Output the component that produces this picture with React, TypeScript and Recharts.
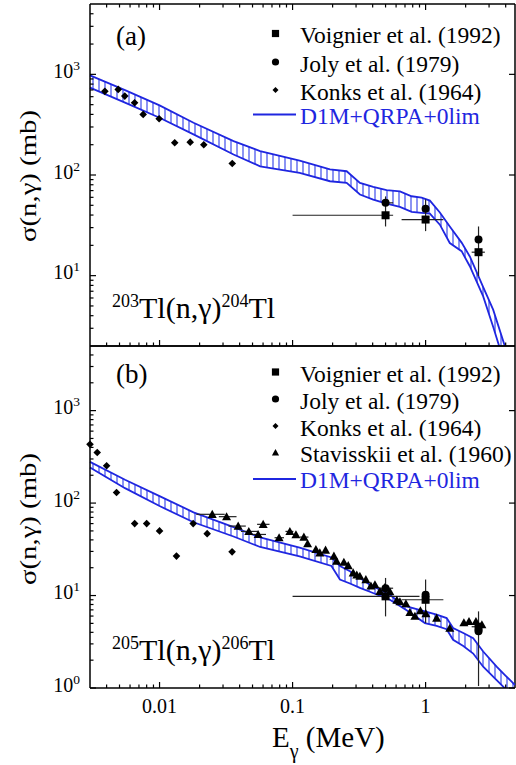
import React from 'react';
import {
  ComposedChart,
  Area,
  Line,
  Scatter,
  ErrorBar,
  XAxis,
  YAxis,
  ReferenceLine,
} from 'recharts';

// ---------- panel (a): 203Tl(n,g)204Tl ----------
const bandEnergyA = [0.003, 0.0055, 0.01, 0.018, 0.036, 0.057, 0.113, 0.191, 0.255, 0.321, 0.404, 0.509, 0.641, 0.785, 0.933, 1.077, 1.28, 1.52, 1.865, 2.15, 2.71, 3.22, 3.95, 4.69];
const bandUpperA = [977, 698, 492, 330, 217, 173, 139, 113.5, 109, 83.6, 76.4, 70.6, 68.6, 61.5, 59.7, 55.7, 42.4, 30.8, 21.3, 15.5, 7.69, 4.59, 1.98, 0.97];
const bandLowerA = [738, 523, 371, 253, 160, 122, 105, 86.7, 83.6, 64, 57, 52, 48.3, 43.1, 42.1, 41.4, 32.1, 21.1, 17.5, 12.4, 6.22, 3.11, 1.3, 0.65];

const konksEnergyA = [0.00388, 0.00489, 0.00548, 0.00649, 0.00753, 0.00993, 0.013, 0.017, 0.0215, 0.0352];
const konksSigmaA = [678, 709, 608, 523, 400, 362, 209, 212, 200, 130];

const jolyEnergyA = [0.5, 1.0, 2.5];
const jolySigmaA = [52.9, 46.1, 22.8];
const jolyXErrA = [[0.03, 0.07], [0, 0], [0, 0]];

const voignierEnergyA = [0.5, 1.0, 2.5];
const voignierSigmaA = [39.8, 36.1, 17.1];
const voignierYErrA = [[9, 21.5], [8.4, 21], [7.2, 13.7]];
const voignierXErrA = [[0.4, 0.07], [0.34, 0.36], [0.28, 0.29]];

// ---------- panel (b): 205Tl(n,g)206Tl ----------
const bandEnergyB = [0.003, 0.0055, 0.01, 0.018, 0.036, 0.057, 0.113, 0.196, 0.227, 0.27, 0.321, 0.381, 0.453, 0.539, 0.641, 0.72, 0.988, 1.21, 1.44, 1.61, 1.92, 2.28, 2.71, 3.42, 3.95, 4.69];
const bandUpperB = [279, 179, 119, 79.5, 55, 42.5, 33, 25.8, 20.8, 18.3, 15.5, 13.1, 11.6, 10.2, 8.31, 7.64, 6.74, 6.21, 5.71, 4.45, 3.93, 3.46, 2.48, 1.7, 1.38, 1.08];
const bandLowerB = [243, 145, 92.9, 62, 43.5, 33.5, 26.5, 20.9, 14.9, 13.5, 12.1, 11.0, 9.95, 9.02, 7.71, 6.94, 5.04, 4.69, 4.32, 3.32, 2.84, 2.36, 1.7, 1.22, 0.99, 0.74];

const konksEnergyB = [0.003, 0.0034, 0.004, 0.00475, 0.0065, 0.008, 0.01, 0.0134, 0.0179, 0.0228, 0.0351];
const konksSigmaB = [432, 353, 253, 130, 60, 60, 50, 26.7, 60, 46.7, 29.7];

const jolyEnergyB = [0.5, 1.0, 2.5];
const jolySigmaB = [12.0, 10.2, 4.1];
const jolyXErrB = [[0.05, 0.07], [0, 0], [0, 0]];

const voignierEnergyB = [0.5, 1.0, 2.5];
const voignierSigmaB = [9.8, 9.0, 4.6];
const voignierYErrB = [[3.85, 5.7], [3.96, 5.9], [3.55, 2.14]];
const voignierXErrB = [[0.4, 0.4], [0.34, 0.36], [0.28, 0.29]];

const stavEnergyB = [0.0249, 0.0319, 0.039, 0.0469, 0.0551, 0.0601, 0.0792, 0.0954, 0.106, 0.1216, 0.1297, 0.1496, 0.1603, 0.177, 0.2045, 0.2142, 0.243, 0.262, 0.2855, 0.304, 0.3206, 0.3556, 0.388, 0.416, 0.453, 0.494, 0.539, 0.608, 0.641, 0.711, 0.762, 0.831, 0.914, 1.005, 1.21, 1.52, 1.94, 2.12, 2.39, 2.65];
const stavSigmaB = [75.6, 71.3, 56.4, 49.4, 45.8, 58.9, 42.2, 49.4, 45.5, 42.9, 36.3, 31.5, 29.0, 31.0, 26.7, 23.5, 22.9, 21.1, 17.6, 16.7, 16.2, 14.9, 12.7, 13.1, 11.1, 12.2, 11.0, 8.91, 8.59, 8.17, 6.57, 5.97, 6.86, 6.36, 5.71, 4.43, 5.08, 5.25, 5.25, 4.83];
const stavXErrB = [[0.006, 0.006], [0.004, 0.006], [0.006, 0.0055], [0.006, 0.008], [0.007, 0.008], [0.006, 0.007], [0.006, 0.007], [0.007, 0.006], [0, 0], [0.008, 0.01]];

// ---------- axes ----------
const xMajor = [0.01, 0.1, 1];
const xMajorLabels = ['0.01', '0.1', '1'];
const xMinor = [0.004, 0.005, 0.006, 0.007, 0.008, 0.009, 0.02, 0.03, 0.04, 0.05, 0.06, 0.07, 0.08, 0.09, 0.2, 0.3, 0.4, 0.5, 0.6, 0.7, 0.8, 0.9, 2, 3, 4];

const yMajorA = [10, 100, 1000];
const yExpA = ['1', '2', '3'];
const yMinorA = [3, 4, 5, 6, 7, 8, 9, 20, 30, 40, 50, 60, 70, 80, 90, 200, 300, 400, 500, 600, 700, 800, 900, 2000, 3000, 4000];
const yMajorB = [1, 10, 100, 1000];
const yExpB = ['0', '1', '2', '3'];
const yMinorB = [2, 3, 4, 5, 6, 7, 8, 9, 20, 30, 40, 50, 60, 70, 80, 90, 200, 300, 400, 500, 600, 700, 800, 900, 2000, 3000, 4000];

const legendA = ['Voignier et al. (1992)', 'Joly et al. (1979)', 'Konks et al. (1964)'];
const legendB = ['Voignier et al. (1992)', 'Joly et al. (1979)', 'Konks et al. (1964)', 'Stavisskii et al. (1960)'];
const modelName = 'D1M+QRPA+0lim';

const FONT = "'Liberation Serif', 'Times New Roman', Times, serif";
const BLUE = '#1f26e0';
const HATCH = '#5a66ee';
const PANEL_H = 342;
const PLOT_W = 425;

const bandRows = (es: number[], hi: number[], lo: number[]) =>
  es.map((e, i) => ({ e, hi: hi[i], lo: lo[i], range: [lo[i], hi[i]] }));

const pointRows = (es: number[], ss: number[], ex?: number[][], ey?: number[][]) =>
  es.map((e, i) => ({ e, s: ss[i], ex: ex ? ex[i] ?? [0, 0] : [0, 0], ey: ey ? ey[i] ?? [0, 0] : [0, 0] }));

function Marker({ kind, cx, cy, r }: { kind: string; cx: number; cy: number; r: number }) {
  if (kind === 'square') return <rect x={cx - r} y={cy - r} width={2 * r} height={2 * r} fill="#000" />;
  if (kind === 'circle') return <circle cx={cx} cy={cy} r={r} fill="#000" />;
  if (kind === 'diamond')
    return <polygon points={`${cx},${cy - r} ${cx + r},${cy} ${cx},${cy + r} ${cx - r},${cy}`} fill="#000" />;
  return <polygon points={`${cx},${cy - r} ${cx + r},${cy + r * 0.8} ${cx - r},${cy + r * 0.8}`} fill="#000" />;
}

const shape = (kind: string, r: number) => (p: any) => <Marker kind={kind} cx={p.cx} cy={p.cy} r={r} />;

function XTick({ x, y, payload, top, labels }: any) {
  const idx = xMajor.indexOf(payload.value);
  const len = idx >= 0 ? 6 : 3.5;
  return (
    <g>
      <line x1={x} x2={x} y1={y} y2={y - len} stroke="#000" strokeWidth={1.2} />
      {top && <line x1={x} x2={x} y1={y - PANEL_H} y2={y - PANEL_H + len} stroke="#000" strokeWidth={1.2} />}
      {labels && idx >= 0 && (
        <text x={x} y={y + 25} textAnchor="middle" style={{ fontFamily: FONT }} fontSize={20} fill="#000">
          {xMajorLabels[idx]}
        </text>
      )}
    </g>
  );
}

function YTick({ x, y, payload, majors, exps }: any) {
  const idx = majors.indexOf(payload.value);
  const len = idx >= 0 ? 6 : 3.5;
  return (
    <g>
      <line x1={x} x2={x + len} y1={y} y2={y} stroke="#000" strokeWidth={1.2} />
      {idx >= 0 && (
        <>
          <line x1={x + PLOT_W} x2={x + PLOT_W - len} y1={y} y2={y} stroke="#000" strokeWidth={1.2} />
          <text x={x - 10} y={y + 3.5} textAnchor="end" style={{ fontFamily: FONT }} fontSize={20} fill="#000">
            <tspan>10</tspan>
            <tspan fontSize={13.5} dy={-8}>{exps[idx]}</tspan>
          </text>
        </>
      )}
    </g>
  );
}

function Panel({ band, konks, joly, voignier, stav, yDomain, yMajor, yExp, yMinor, hatchId, height, marginBottom, topTicks, xLabels }: any) {
  return (
    <ComposedChart
      width={516}
      height={height}
      margin={{ top: 4, right: 1, bottom: marginBottom, left: 89 }}
      data={band}
    >
      <defs>
        <pattern id={hatchId} patternUnits="userSpaceOnUse" width={6} height={8}>
          <line x1={3} y1={0} x2={3} y2={8} stroke={HATCH} strokeWidth={1.4} />
        </pattern>
      </defs>
      <XAxis
        dataKey="e"
        type="number"
        scale="log"
        domain={[0.003, 4.7]}
        ticks={[...xMajor, ...xMinor]}
        interval={0}
        height={1}
        tickSize={0}
        tickMargin={0}
        tickLine={false}
        axisLine={{ stroke: '#000', strokeWidth: 1.5 }}
        tick={(p: any) => <XTick {...p} top={topTicks} labels={xLabels} />}
      />
      <YAxis
        type="number"
        scale="log"
        domain={yDomain}
        allowDataOverflow
        ticks={[...yMajor, ...yMinor]}
        interval={0}
        width={1}
        tickSize={0}
        tickMargin={0}
        tickLine={false}
        axisLine={{ stroke: '#000', strokeWidth: 1.5 }}
        tick={(p: any) => <YTick {...p} majors={yMajor} exps={yExp} />}
      />
      <YAxis yAxisId="pts" type="number" scale="log" domain={yDomain} hide />
      <ReferenceLine y={yDomain[1]} stroke="#000" strokeWidth={1.5} ifOverflow="visible" />
      <ReferenceLine x={4.7} stroke="#000" strokeWidth={1.5} ifOverflow="visible" />
      <Area dataKey="range" type="linear" stroke="none" fill={`url(#${hatchId})`} fillOpacity={1} isAnimationActive={false} />
      <Line dataKey="hi" type="linear" stroke={BLUE} strokeWidth={1.8} dot={false} activeDot={false} isAnimationActive={false} />
      <Line dataKey="lo" type="linear" stroke={BLUE} strokeWidth={1.8} dot={false} activeDot={false} isAnimationActive={false} />
      <Scatter yAxisId="pts" data={konks} dataKey="s" shape={shape('diamond', 3.8)} isAnimationActive={false} />
      {stav && (
        <Scatter yAxisId="pts" data={stav} dataKey="s" shape={shape('triangle', 4.5)} isAnimationActive={false}>
          <ErrorBar dataKey="ex" direction="x" width={0} stroke="#222" strokeWidth={1.2} />
        </Scatter>
      )}
      <Scatter yAxisId="pts" data={joly} dataKey="s" shape={shape('circle', 4)} isAnimationActive={false}>
        <ErrorBar dataKey="ex" direction="x" width={0} stroke="#222" strokeWidth={1.2} />
      </Scatter>
      <Scatter yAxisId="pts" data={voignier} dataKey="s" shape={shape('square', 4)} isAnimationActive={false}>
        <ErrorBar dataKey="ey" direction="y" width={0} stroke="#222" strokeWidth={1.2} />
        <ErrorBar dataKey="ex" direction="x" width={0} stroke="#222" strokeWidth={1.2} />
      </Scatter>
    </ComposedChart>
  );
}

function Legend({ names, kinds, top }: { names: string[]; kinds: string[]; top: number[] }) {
  return (
    <g style={{ fontFamily: FONT }} fontSize={23.5}>
      {names.map((n, i) => (
        <g key={n}>
          <Marker kind={kinds[i]} cx={275.5} cy={top[i] - 9.5} r={kinds[i] === 'diamond' ? 3 : 3.6} />
          <text x={300} y={top[i]} fill="#000">{n}</text>
        </g>
      ))}
      <line x1={253} x2={296} y1={top[names.length] - 9} y2={top[names.length] - 9} stroke={BLUE} strokeWidth={1.8} />
      <text x={300} y={top[names.length]} fill={BLUE}>{modelName}</text>
    </g>
  );
}

function Reaction({ x, y, a, b }: { x: number; y: number; a: string; b: string }) {
  return (
    <text x={x} y={y} style={{ fontFamily: FONT }} fontSize={30} fill="#000">
      <tspan fontSize={18} dy={-11}>{a}</tspan>
      <tspan dy={11}>Tl(n,γ)</tspan>
      <tspan fontSize={18} dy={-11}>{b}</tspan>
      <tspan dy={11}>Tl</tspan>
    </text>
  );
}

export default function App() {
  const bandA = bandRows(bandEnergyA, bandUpperA, bandLowerA);
  const bandB = bandRows(bandEnergyB, bandUpperB, bandLowerB);
  return (
    <div style={{ position: 'absolute', left: 0, top: 0, width: 516, height: 765, background: '#fff' }}>
      <div style={{ position: 'absolute', left: 0, top: 0 }}>
        <Panel
          band={bandA}
          konks={pointRows(konksEnergyA, konksSigmaA)}
          joly={pointRows(jolyEnergyA, jolySigmaA, jolyXErrA)}
          voignier={pointRows(voignierEnergyA, voignierSigmaA, voignierXErrA, voignierYErrA)}
          stav={null}
          yDomain={[2, 5000]}
          yMajor={yMajorA}
          yExp={yExpA}
          yMinor={yMinorA}
          hatchId="hatchA"
          height={350}
          marginBottom={3}
          topTicks
          xLabels={false}
        />
      </div>
      <div style={{ position: 'absolute', left: 0, top: 342 }}>
        <Panel
          band={bandB}
          konks={pointRows(konksEnergyB, konksSigmaB)}
          joly={pointRows(jolyEnergyB, jolySigmaB, jolyXErrB)}
          voignier={pointRows(voignierEnergyB, voignierSigmaB, voignierXErrB, voignierYErrB)}
          stav={pointRows(stavEnergyB, stavSigmaB, stavXErrB)}
          yDomain={[1, 5000]}
          yMajor={yMajorB}
          yExp={yExpB}
          yMinor={yMinorB}
          hatchId="hatchB"
          height={423}
          marginBottom={76}
          topTicks={false}
          xLabels
        />
      </div>
      <svg width={516} height={765} style={{ position: 'absolute', left: 0, top: 0, pointerEvents: 'none', fontFamily: FONT }}>
        <text x={116} y={44.5} fontSize={27} fill="#000">(a)</text>
        <text x={116} y={383} fontSize={27} fill="#000">(b)</text>
        <Legend names={legendA} kinds={['square', 'circle', 'diamond']} top={[43, 71.5, 99.5, 123.5]} />
        <Legend names={legendB} kinds={['square', 'circle', 'diamond', 'triangle']} top={[381.5, 408.5, 435.5, 462, 488]} />
        <Reaction x={112} y={318} a="203" b="204" />
        <Reaction x={112} y={660} a="205" b="206" />
        {[176, 519].map((cy) => (
          <text
            key={cy}
            transform={`translate(28,${cy}) rotate(-90)`}
            textAnchor="middle"
            dominantBaseline="central"
            fontSize={23}
            textLength={132}
            lengthAdjust="spacingAndGlyphs"
            fill="#000"
          >
            σ(n,γ) (mb)
          </text>
        ))}
        <text x={272} y={746.5} fontSize={29} fill="#000">
          <tspan>E</tspan>
          <tspan fontSize={20} dy={11}>γ</tspan>
          <tspan dy={-11}> (MeV)</tspan>
        </text>
      </svg>
    </div>
  );
}
